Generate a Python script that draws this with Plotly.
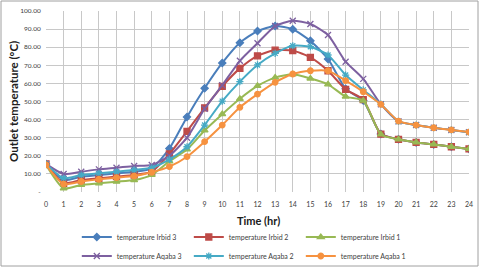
import plotly.graph_objects as go

hours = list(range(25))
x_ticks = [str(h) for h in hours]
y_tickvals = [0, 10, 20, 30, 40, 50, 60, 70, 80, 90, 100]
y_ticktext = ["-", "10.00", "20.00", "30.00", "40.00", "50.00", "60.00", "70.00", "80.00", "90.00", "100.00"]

series_names = ["temperature Irbid 3", "temperature Irbid 2", "temperature Irbid 1",
                "temperature Aqaba 3", "temperature Aqaba 2", "temperature Aqaba 1"]

irbid3 = [15.5, 6.6, 8.5, 9.4, 10.3, 11.2, 13.1, 24, 41.5, 57.3, 71.3, 82.5, 88.9, 91.7, 89.9, 83.5, 73.5, 57, 50.5, 32, 29.1, 27.4, 26.3, 25, 23.8]
irbid2 = [15.5, 4.8, 6.6, 7.6, 8.5, 9.4, 11.2, 21, 33.5, 46.5, 58.4, 68.3, 75.2, 78.4, 78.1, 74.4, 67, 56.7, 51, 32, 29.1, 27.4, 26.3, 25, 23.8]
irbid1 = [15, 2, 3.9, 4.8, 5.7, 6.6, 9.5, 17, 23.5, 34, 43, 51.5, 58.6, 63.2, 65, 62.7, 59.5, 52.7, 50.5, 31.8, 29.1, 27.4, 26.3, 25, 23.8]
aqaba3 = [15.5, 9.9, 11.2, 12.5, 13.4, 14.4, 14.9, 20, 30, 46, 59, 72.5, 82.2, 91.7, 94.6, 92.8, 86.7, 72, 62.5, 48.5, 39, 37, 35.5, 34.3, 33]
aqaba2 = [15.5, 7.6, 9.4, 10.3, 11.2, 12.2, 13.4, 18, 25, 37, 50.2, 61, 70.2, 76.6, 80.8, 80.3, 75.7, 64.6, 56.4, 48.5, 39, 37, 35.5, 34.3, 33]
aqaba1 = [15, 4.4, 5.8, 7, 7.9, 8.8, 10.9, 14, 19.5, 27.8, 37, 46.8, 54.1, 60.6, 65.2, 67, 67, 61.5, 55.4, 48.4, 39.2, 37, 35.5, 34.3, 33.1]

series_values = [irbid3, irbid2, irbid1, aqaba3, aqaba2, aqaba1]
colors = ["#4A7EBB", "#BE4B48", "#98B954", "#7D60A0", "#46AAC5", "#F69240"]
symbols = ["diamond", "square", "triangle-up", "x-thin", "asterisk", "circle"]
sizes = [5.5, 6, 6, 6, 6, 5.5]
legend_ids = ["legend", "legend", "legend", "legend2", "legend2", "legend2"]

fig = go.Figure()
for name, vals, c, s, sz, lg in zip(series_names, series_values, colors, symbols, sizes, legend_ids):
    fig.add_trace(go.Scatter(
        x=hours, y=vals, name=name, mode="lines+markers", legend=lg,
        line=dict(color=c, width=2, shape="spline", smoothing=0.6),
        marker=dict(symbol=s, size=sz, color=c, line=dict(color=c, width=1.3)),
    ))

font_family = "Lato, 'Liberation Sans', Arial, sans-serif"
legend_common = dict(orientation="h", x=0.47, xanchor="center", yanchor="middle",
                     yref="container", entrywidth=67, itemwidth=30,
                     font=dict(size=7, color="#404040"), bgcolor="rgba(0,0,0,0)")

fig.update_layout(
    width=480, height=268,
    margin=dict(l=46, r=11, t=11, b=76),
    paper_bgcolor="white", plot_bgcolor="white",
    font=dict(family=font_family, size=7, color="#404040"),
    showlegend=True,
    legend=dict(y=1 - 237 / 268, **legend_common),
    legend2=dict(y=1 - 256 / 268, **legend_common),
    xaxis=dict(range=[0, 24], tickvals=hours, ticktext=x_ticks, showgrid=True,
               gridcolor="#C8C8C8", gridwidth=1, zeroline=False, showline=False,
               ticks="outside", ticklen=6, tickcolor="rgba(0,0,0,0)",
               tickfont=dict(size=7, color="#404040"), automargin=False),
    yaxis=dict(range=[0, 100], tickvals=y_tickvals, ticktext=y_ticktext, showgrid=True,
               gridcolor="#C8C8C8", gridwidth=1, zeroline=False, showline=False,
               ticks="outside", ticklen=3, tickcolor="rgba(0,0,0,0)",
               tickfont=dict(size=6.5, color="#404040"), automargin=False),
    annotations=[
        dict(text="<b>Outlet temperature (°C)</b>", textangle=-90, xref="paper", yref="paper",
             x=(14 - 46) / 423, y=(192 - 102) / 181, xanchor="center", yanchor="middle",
             showarrow=False, font=dict(size=11.5, color="#202020")),
        dict(text="<b>Time (hr)</b>", xref="paper", yref="paper",
             x=(258 - 46) / 423, y=(192 - 220) / 181, xanchor="center", yanchor="middle",
             showarrow=False, font=dict(size=11, color="#202020")),
    ],
    shapes=[dict(type="rect", xref="paper", yref="paper",
                 x0=(1 - 46) / 423, x1=(478 - 46) / 423,
                 y0=(192 - 266) / 181, y1=(192 - 1) / 181,
                 line=dict(color="#A0A0A0", width=1), fillcolor="rgba(0,0,0,0)", layer="below")],
)

fig.write_html("out.html", config={"displayModeBar": False},
               post_script="document.body.style.margin='0';")
